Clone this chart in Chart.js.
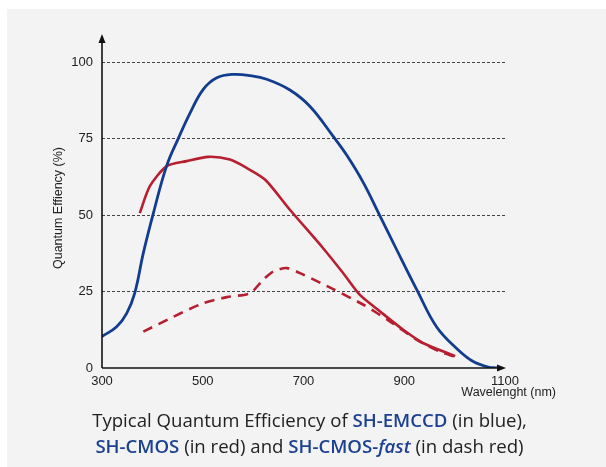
<!DOCTYPE html>
<html>
<head>
<meta charset="utf-8">
<script src="https://cdn.jsdelivr.net/npm/chart.js@4.4.1/dist/chart.umd.min.js"></script>
<style>
    html, body { margin: 0; padding: 0; background: #fff; }
    .wrap { position: relative; width: 606px; height: 467px; overflow: hidden; }
    .panel { position: absolute; left: 7px; top: 9px; width: 599px; height: 458px; background: #f3f3f3; }
    #qeChart { position: absolute; left: 0; top: 0; }
    .caption {
        position: absolute; left: 0; top: 407px; width: 619px; text-align: center;
        font-family: 'Open Sans', sans-serif; font-size: 18.6px; line-height: 26px; color: #222;
    }
    .caption b { color: #1b4190; font-weight: 600; }
</style>
</head>
<body>
<div class="wrap">
    <div class="panel"></div>
    <canvas id="qeChart" width="606" height="467"></canvas>
    <div class="caption">
        Typical Quantum Efficiency of <b>SH-EMCCD</b> (in blue),<br>
        <b>SH-CMOS</b> (in red) and <b>SH-CMOS-<i>fast</i></b> (in dash red)
    </div>
</div>
<script>
'use strict';

const xTicks = [300, 500, 700, 900, 1100];
const yTicks = [0, 25, 50, 75, 100];

const emccdNm = [300, 329, 349, 365, 382, 402, 428, 452, 475, 501, 528, 561, 594, 627, 673, 713, 759, 786, 819, 849, 885, 925, 964, 1004, 1037, 1070, 1090];
const emccdQe = [10.3, 13.5, 17.9, 24.5, 37.6, 50.7, 66, 75.3, 83.5, 91.2, 95, 96.1, 95.7, 94.5, 91.0, 85.6, 75.8, 69.6, 60.6, 50.7, 38.7, 25.6, 13.5, 6.4, 2.1, 0.2, 0];

const cmosNm = [375, 395, 428, 468, 511, 554, 587, 624, 673, 739, 779, 812, 852, 898, 938, 1001];
const cmosQe = [50.7, 59.5, 66, 67.7, 69.1, 68.2, 65.5, 61.6, 51.8, 39.2, 31, 23.9, 18.5, 12.5, 8.1, 3.9];

const fastNm = [382, 442, 501, 548, 594, 620, 640, 667, 700, 759, 819, 872, 925, 971, 1001];
const fastQe = [11.9, 16.8, 21.2, 23.2, 24.5, 28.9, 31.6, 32.7, 30.5, 25.8, 20.7, 15.2, 9.2, 5.3, 3.7];

function toPoints(xs, ys) {
    return xs.map((x, i) => ({x: x, y: ys[i]}));
}

const tickFont = {family: "'Liberation Sans', Arial, sans-serif", size: 13};

// axis lines with arrow heads and the two axis titles
const axesPlugin = {
    id: 'axesPlugin',
    afterDraw(chart) {
        const {ctx, chartArea} = chart;
        const l = chartArea.left, r = chartArea.right, t = chartArea.top, b = chartArea.bottom;
        ctx.save();
        ctx.strokeStyle = '#111';
        ctx.fillStyle = '#111';
        ctx.lineWidth = 1.6;
        ctx.beginPath();
        ctx.moveTo(l, b);
        ctx.lineTo(l, t - 2);
        ctx.moveTo(l, b);
        ctx.lineTo(r - 4, b);
        ctx.stroke();

        ctx.beginPath();
        ctx.moveTo(l, t - 4);
        ctx.lineTo(l - 3.5, t + 5);
        ctx.lineTo(l + 3.5, t + 5);
        ctx.closePath();
        ctx.fill();

        ctx.beginPath();
        ctx.moveTo(r + 1, b);
        ctx.lineTo(r - 8, b - 3.5);
        ctx.lineTo(r - 8, b + 3.5);
        ctx.closePath();
        ctx.fill();

        ctx.fillStyle = '#222';
        ctx.font = "12.5px 'Liberation Sans', Arial, sans-serif";
        ctx.textAlign = 'right';
        ctx.textBaseline = 'middle';
        ctx.fillText('Wavelenght (nm)', 556, 393);

        ctx.translate(59, 208);
        ctx.rotate(-Math.PI / 2);
        ctx.textAlign = 'center';
        ctx.fillText('Quantum Effiency (%)', 0, 0);
        ctx.restore();
    }
};

const config = {
    type: 'line',
    data: {
        datasets: [{
            label: 'SH-EMCCD',
            data: toPoints(emccdNm, emccdQe),
            borderColor: '#123d8e',
            borderWidth: 2.8,
            pointRadius: 0,
            tension: 0.4
        }, {
            label: 'SH-CMOS',
            data: toPoints(cmosNm, cmosQe),
            borderColor: '#b71f31',
            borderWidth: 2.6,
            pointRadius: 0,
            tension: 0.25
        }, {
            label: 'SH-CMOS-fast',
            data: toPoints(fastNm, fastQe),
            borderColor: '#b71f31',
            borderWidth: 2.6,
            borderDash: [10, 7],
            pointRadius: 0,
            tension: 0.25
        }]
    },
    options: {
        responsive: false,
        animation: false,
        layout: {
            padding: {left: 62, top: 38, right: 101, bottom: 69}
        },
        plugins: {
            legend: {display: false},
            tooltip: {enabled: false}
        },
        scales: {
            x: {
                type: 'linear',
                min: 300,
                max: 1100,
                afterBuildTicks: scale => { scale.ticks = xTicks.map(v => ({value: v})); },
                afterFit: scale => { scale.height = 30; },
                grid: {display: false, drawTicks: false},
                border: {display: false},
                ticks: {font: tickFont, color: '#222', padding: 6, maxRotation: 0, callback: v => String(v)}
            },
            y: {
                min: 0,
                max: 108,
                afterBuildTicks: scale => { scale.ticks = yTicks.map(v => ({value: v})); },
                afterFit: scale => { scale.width = 40; },
                grid: {
                    drawTicks: false,
                    lineWidth: 1,
                    color: c => (c.tick && c.tick.value > 0 ? '#444' : 'rgba(0,0,0,0)')
                },
                border: {display: false, dash: [3, 2]},
                ticks: {font: tickFont, color: '#222', padding: 9}
            }
        }
    },
    plugins: [axesPlugin]
};

const qeChart = new Chart(document.getElementById('qeChart'), config);
</script>
</body>
</html>
